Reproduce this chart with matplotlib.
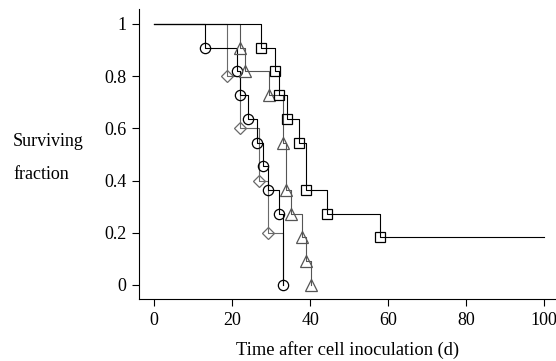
import matplotlib
matplotlib.use('Agg')
import matplotlib.pyplot as plt

plt.rcParams['font.family'] = ['Liberation Serif', 'DejaVu Serif']

# event times (d) and surviving fraction after each event
circle_t = [13, 21.3, 22, 24, 26.3, 28, 29.2, 32, 33]
circle_s = [0.909, 0.818, 0.727, 0.636, 0.545, 0.455, 0.364, 0.273, 0.0]
circle_end = 33

square_t = [27.3, 31, 32, 34, 37.1, 39, 44.2, 58]
square_s = [0.909, 0.818, 0.727, 0.636, 0.545, 0.364, 0.273, 0.182]
square_end = 100

triangle_t = [22, 23.2, 29.5, 33, 33.8, 35, 38, 39, 40.1]
triangle_s = [0.909, 0.818, 0.727, 0.545, 0.364, 0.273, 0.182, 0.091, 0.0]
triangle_end = 40.1

diamond_t = [18.8, 22, 27, 29.1]
diamond_s = [0.8, 0.6, 0.4, 0.2]
diamond_end = 33
diamond_last = 0.0

xticks = [0, 20, 40, 60, 80, 100]
yticks = [0, 0.2, 0.4, 0.6, 0.8, 1]
ylabels = ['0', '0.2', '0.4', '0.6', '0.8', '1']


def km_steps(times, surv, end, last=None):
    xs, ys = [0], [1.0]
    prev = 1.0
    for t, s in zip(times, surv):
        xs += [t, t]
        ys += [prev, s]
        prev = s
    xs.append(end)
    ys.append(prev)
    if last is not None:
        xs.append(end)
        ys.append(last)
    return xs, ys


fig = plt.figure(figsize=(5.56, 3.61), dpi=100)
ax = fig.add_axes([0.25, 0.1717, 0.75, 0.8033])

groups = [
    (diamond_t, diamond_s, diamond_end, diamond_last, 'D', '#6a6a6a', 6.4),
    (circle_t, circle_s, circle_end, None, 'o', 'black', 7.4),
    (triangle_t, triangle_s, triangle_end, None, '^', '#555555', 8.0),
    (square_t, square_s, square_end, None, 's', 'black', 7.4),
]
for t, s, end, last, mk, col, ms in groups:
    xs, ys = km_steps(t, s, end, last)
    ax.plot(xs, ys, color=col, lw=0.8)
    ax.plot(t, s, ls='none', marker=mk, ms=ms, mfc='none', mec=col, mew=0.9)

ax.set_xlim(-3.85, 103)
ax.set_ylim(-0.054, 1.057)
ax.set_xticks(xticks)
ax.set_yticks(yticks)
ax.set_yticklabels(ylabels)
for sp in ['top', 'right']:
    ax.spines[sp].set_visible(False)
ax.tick_params(direction='out', length=5, width=0.8, labelsize=13, pad=4)
ax.set_xlabel('Time after cell inoculation (d)', fontsize=13.3, labelpad=9)

fig.text(13 / 556, 1 - 146 / 361, 'Surviving', fontsize=13, ha='left', va='baseline')
fig.text(13 / 556, 1 - 179 / 361, 'fraction', fontsize=13, ha='left', va='baseline')

fig.savefig('out.png', dpi=100)
